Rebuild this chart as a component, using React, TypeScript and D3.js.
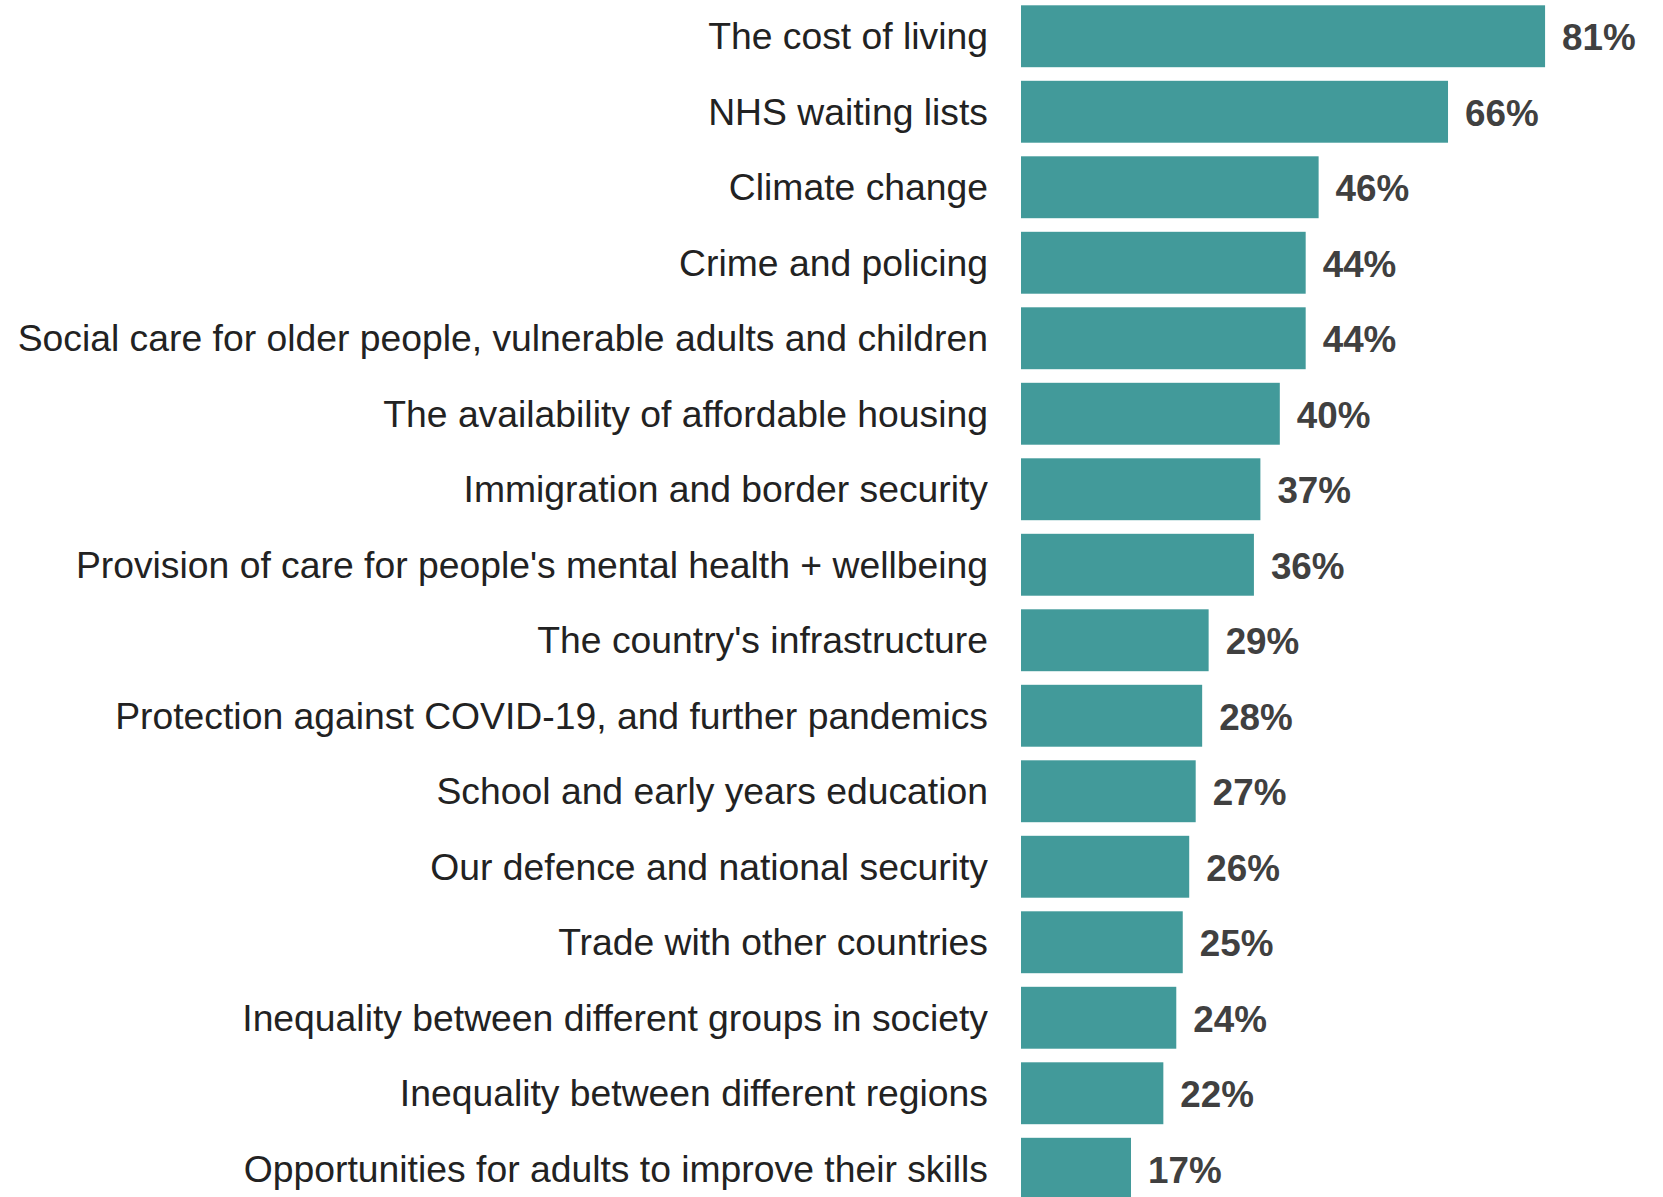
import React from 'react';
import * as d3 from 'd3';

const categories = [
  'The cost of living',
  'NHS waiting lists',
  'Climate change',
  'Crime and policing',
  'Social care for older people, vulnerable adults and children',
  'The availability of affordable housing',
  'Immigration and border security',
  "Provision of care for people's mental health + wellbeing",
  "The country's infrastructure",
  'Protection against COVID-19, and further pandemics',
  'School and early years education',
  'Our defence and national security',
  'Trade with other countries',
  'Inequality between different groups in society',
  'Inequality between different regions',
  'Opportunities for adults to improve their skills',
];

const values = [81, 66, 46, 44, 44, 40, 37, 36, 29, 28, 27, 26, 25, 24, 22, 17];

const W = 1663;
const H = 1197;
const barLeft = 1021;
const pxPerPct = 6.47;
const step = 75.5;
const pad = 0.18;

const App = () => {
  const x = d3.scaleLinear().domain([0, 100]).range([barLeft, barLeft + 100 * pxPerPct]);
  const y = d3.scaleBand()
    .domain(categories)
    .range([5.3, 5.3 + step * (categories.length - pad)])
    .paddingInner(pad)
    .paddingOuter(0);

  return (
    <svg
      width={W}
      height={H}
      style={{ position: 'absolute', left: 0, top: 0, background: '#fff', fontFamily: 'Arial, "Liberation Sans", Helvetica, sans-serif' }}
    >
      {categories.map((c, i) => {
        const yc = (y(c) as number) + y.bandwidth() / 2;
        return (
          <g key={c}>
            <rect
              x={x(0)}
              y={y(c)}
              width={x(values[i]) - x(0)}
              height={y.bandwidth()}
              fill="#429a9a"
            />
            <text
              x={988}
              y={yc}
              dy="0.35em"
              textAnchor="end"
              fontSize={37.3}
              fill="#222"
            >
              {c}
            </text>
            <text
              x={x(values[i]) + 17}
              y={yc}
              dy="0.38em"
              fontSize={36.8}
              fontWeight="bold"
              fill="#404040"
            >
              {values[i]}%
            </text>
          </g>
        );
      })}
    </svg>
  );
};

export default App;
